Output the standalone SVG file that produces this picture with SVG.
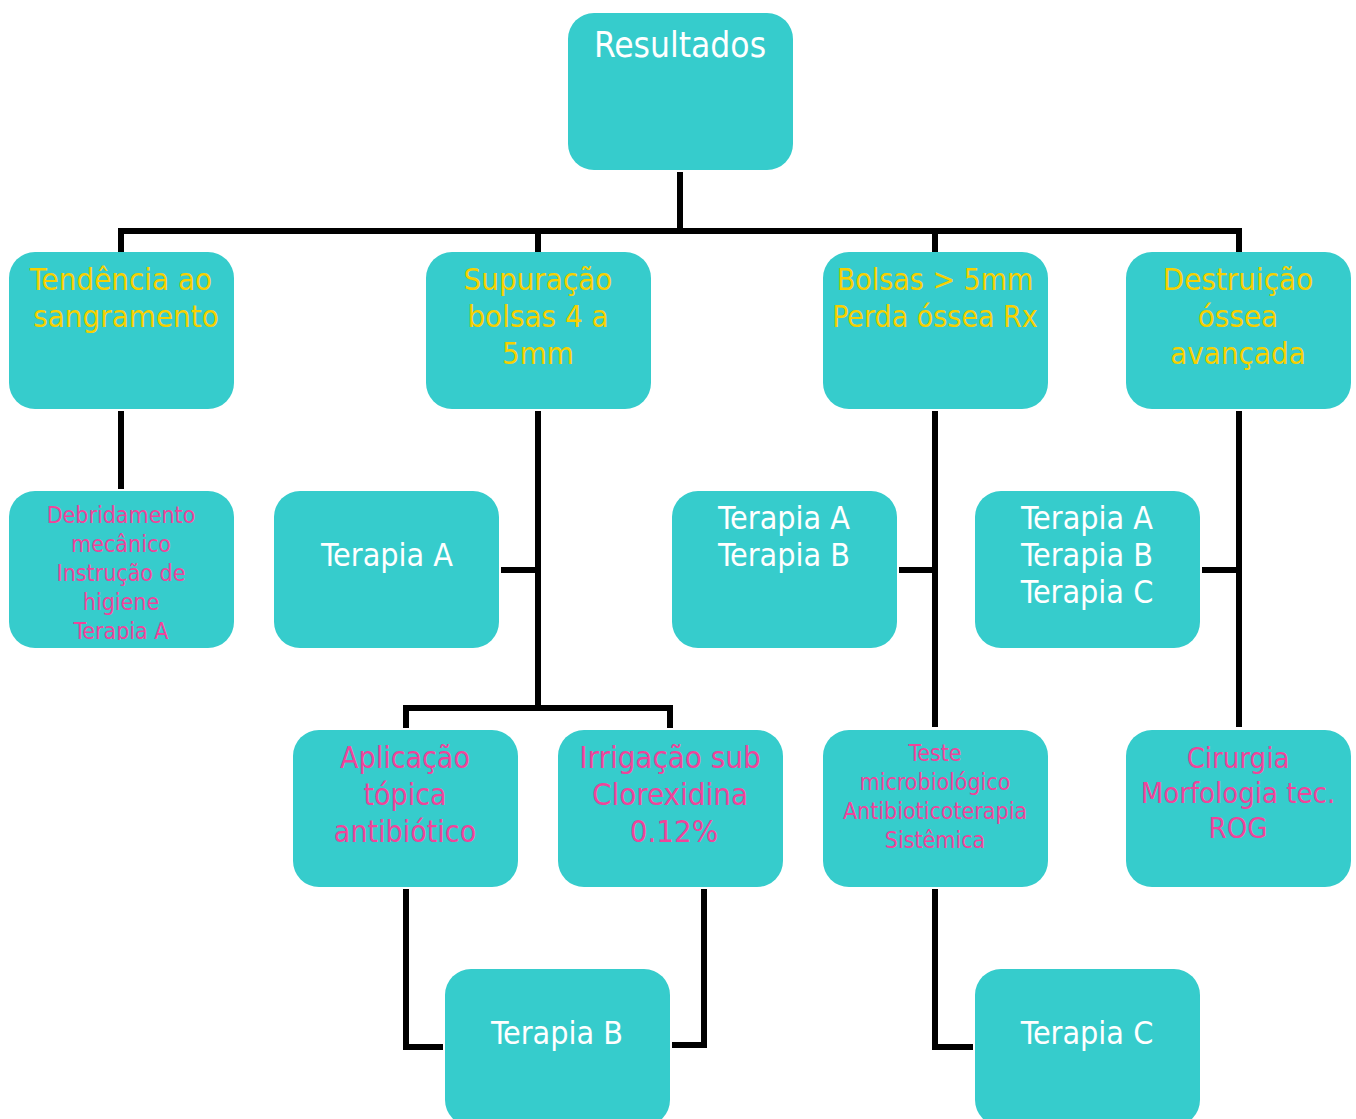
<svg xmlns="http://www.w3.org/2000/svg" width="1356" height="1119" viewBox="0 0 1356 1119">
<style>
.box{fill:#36CCCC}
.t{font-family:"DejaVu Sans Condensed","DejaVu Sans",sans-serif;text-anchor:middle}
.w{fill:#FFFFFF}
.y{fill:#F7D000}
.p{fill:#F0449A}
.c{fill:none;stroke:#000;stroke-width:6;stroke-linecap:butt;stroke-linejoin:miter}
</style>
<defs>
<clipPath id="clipDeb"><rect x="9" y="491" width="225" height="149"/></clipPath>
</defs>
<rect width="1356" height="1119" fill="#FFFFFF"/>
<g id="connectors">
<path class="c" d="M680,172 V231 M118,231 H1242 M121,231 V252 M538,231 V252 M935,231 V252 M1239,231 V252"/>
<path class="c" d="M121,411 V489"/>
<path class="c" d="M538,411 V711 M406,728 V708 H670 V728 M501,570 H538"/>
<path class="c" d="M935,411 V727 M899,570 H938 M935,889 V1047 H973"/>
<path class="c" d="M1239,411 V727 M1202,570 H1242"/>
<path class="c" d="M406,889 V1047 H443"/>
<path class="c" d="M704,889 V1045 H672"/>
</g>
<g id="n-resultados"><rect class="box" x="568" y="13" width="225" height="157" rx="26"/><text class="t w" x="680" y="57" font-size="35">Resultados</text></g>
<g id="n-tendencia"><rect class="box" x="9" y="252" width="225" height="157" rx="26"/><text class="t y" font-size="31"><tspan x="121" y="290">Tendência ao</tspan><tspan x="126" y="327">sangramento</tspan></text></g>
<g id="n-supuracao"><rect class="box" x="426" y="252" width="225" height="157" rx="26"/><text class="t y" font-size="31"><tspan x="538" y="290">Supuração</tspan><tspan x="538" y="327">bolsas 4 a</tspan><tspan x="538" y="364">5mm</tspan></text></g>
<g id="n-bolsas"><rect class="box" x="823" y="252" width="225" height="157" rx="26"/><text class="t y" font-size="30"><tspan x="935" y="290">Bolsas &gt; 5mm</tspan><tspan x="935" y="327">Perda óssea Rx</tspan></text></g>
<g id="n-destruicao"><rect class="box" x="1126" y="252" width="225" height="157" rx="26"/><text class="t y" font-size="31"><tspan x="1238" y="290">Destruição</tspan><tspan x="1238" y="327">óssea</tspan><tspan x="1238" y="364">avançada</tspan></text></g>
<g id="n-debridamento"><rect class="box" x="9" y="491" width="225" height="157" rx="26"/><text class="t p" font-size="23" clip-path="url(#clipDeb)"><tspan x="121" y="523">Debridamento</tspan><tspan x="121" y="552">mecânico</tspan><tspan x="121" y="581">Instrução de</tspan><tspan x="121" y="610">higiene</tspan><tspan x="121" y="639">Terapia A</tspan></text></g>
<g id="n-terapiaA"><rect class="box" x="274" y="491" width="225" height="157" rx="26"/><text class="t w" x="387" y="566" font-size="32">Terapia A</text></g>
<g id="n-terapiaAB"><rect class="box" x="672" y="491" width="225" height="157" rx="26"/><text class="t w" font-size="32"><tspan x="784" y="529">Terapia A</tspan><tspan x="784" y="566">Terapia B</tspan></text></g>
<g id="n-terapiaABC"><rect class="box" x="975" y="491" width="225" height="157" rx="26"/><text class="t w" font-size="32"><tspan x="1087" y="529">Terapia A</tspan><tspan x="1087" y="566">Terapia B</tspan><tspan x="1087" y="603">Terapia C</tspan></text></g>
<g id="n-aplicacao"><rect class="box" x="293" y="730" width="225" height="157" rx="26"/><text class="t p" font-size="30"><tspan x="405" y="768">Aplicação</tspan><tspan x="405" y="805">tópica</tspan><tspan x="405" y="842">antibiótico</tspan></text></g>
<g id="n-irrigacao"><rect class="box" x="558" y="730" width="225" height="157" rx="26"/><text class="t p" font-size="31"><tspan x="670" y="768">Irrigação sub</tspan><tspan x="670" y="805">Clorexidina</tspan><tspan x="674" y="842">0.12%</tspan></text></g>
<g id="n-teste"><rect class="box" x="823" y="730" width="225" height="157" rx="26"/><text class="t p" font-size="23"><tspan x="935" y="761">Teste</tspan><tspan x="935" y="790">microbiológico</tspan><tspan x="935" y="819">Antibioticoterapia</tspan><tspan x="935" y="848">Sistêmica</tspan></text></g>
<g id="n-cirurgia"><rect class="box" x="1126" y="730" width="225" height="157" rx="26"/><text class="t p" font-size="29"><tspan x="1238" y="768">Cirurgia</tspan><tspan x="1238" y="803">Morfologia tec.</tspan><tspan x="1238" y="838">ROG</tspan></text></g>
<g id="n-terapiaB"><rect class="box" x="445" y="969" width="225" height="157" rx="26"/><text class="t w" x="557" y="1044" font-size="32">Terapia B</text></g>
<g id="n-terapiaC"><rect class="box" x="975" y="969" width="225" height="157" rx="26"/><text class="t w" x="1087" y="1044" font-size="32">Terapia C</text></g>
</svg>
